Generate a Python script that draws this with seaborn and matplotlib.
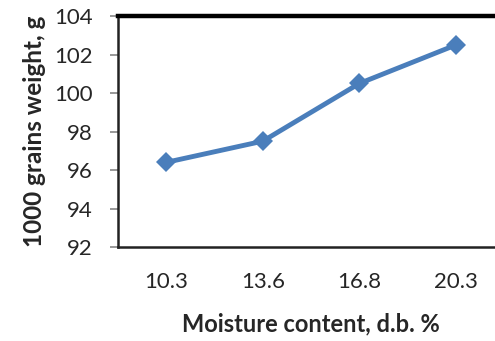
import matplotlib
matplotlib.use("Agg")
import matplotlib.pyplot as plt
import seaborn as sns
import pandas as pd

# Moisture content levels and measured 1000-grain weight
moisture = ["10.3", "13.6", "16.8", "20.3"]
weight = [96.4, 97.5, 100.5, 102.5]
y_ticks = [92, 94, 96, 98, 100, 102, 104]

df = pd.DataFrame({"moisture": moisture, "weight": weight})

sns.set_style("white")
plt.rcParams["font.family"] = ["Lato", "DejaVu Sans"]

fig = plt.figure(figsize=(4.95, 3.41), dpi=100)
ax = fig.add_axes([0.2384, 0.2757, 0.780, 0.677])

sns.lineplot(data=df, x="moisture", y="weight", ax=ax, color="#4A7EBB",
             linewidth=3.5, marker="D", markersize=10, markeredgewidth=0,
             sort=False)

ax.set_xlim(-0.5, 3.5)
ax.set_ylim(92, 104)
ax.set_yticks(y_ticks)
ax.set_yticklabels([str(t) for t in y_ticks])

ax.tick_params(axis="y", which="both", direction="out", length=6, width=1.2,
               color="#868686", labelsize=16, pad=12, left=True)
ax.tick_params(axis="x", length=0, labelsize=16, pad=18)

for side in ["left", "bottom"]:
    ax.spines[side].set_color("#222222")
    ax.spines[side].set_linewidth(1.8)
ax.spines["top"].set_color("black")
ax.spines["top"].set_linewidth(3.2)
ax.spines["right"].set_visible(False)

ax.set_xlabel("Moisture content, d.b. %", fontsize=17, fontweight="bold",
              labelpad=15)
ax.set_ylabel("1000 grains weight, g", fontsize=17.5, fontweight="bold",
              labelpad=6)

fig.savefig("out.png", dpi=100)
